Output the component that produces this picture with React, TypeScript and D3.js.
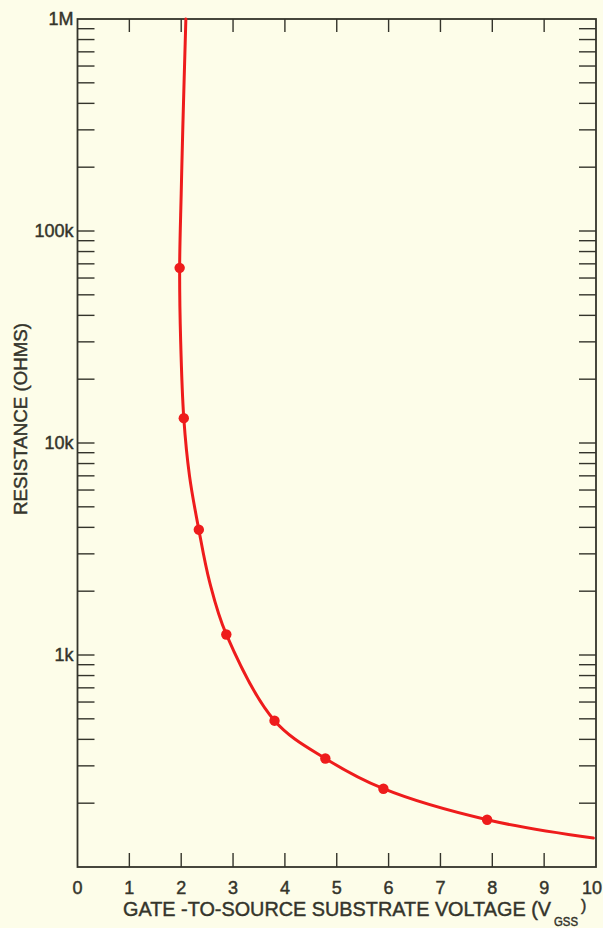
import { useEffect, useRef } from 'react';
import * as d3 from 'd3';

// x axis: gate-to-source substrate voltage
const xTicks = [0, 1, 2, 3, 4, 5, 6, 7, 8, 9, 10];
// y axis decades (ohms) and their labels
const yDecades = [100, 1000, 10000, 100000, 1000000];
const yDecadeLabels = ['', '1k', '10k', '100k', '1M'];
const minorSteps = [1, 2, 3, 4, 5, 6, 7, 8, 9];

// measured points (circles)
const markerVolts = [1.97, 2.05, 2.34, 2.87, 3.8, 4.78, 5.9, 7.9];
const markerOhms = [67000, 13100, 3900, 1250, 490, 325, 234, 167];

// hand drawn curve through the points
const curveVolts = [2.09, 2.03, 2.0, 1.97, 1.99, 2.05, 2.16, 2.34, 2.55, 2.87, 3.8, 4.78, 5.9, 7.9, 9.95];
const curveOhms = [1000000, 300000, 150000, 67000, 30000, 13100, 7000, 3900, 2200, 1250, 490, 325, 234, 167, 137];

const W = 603;
const H = 928;
const BG = '#fdfde9';
const INK = '#34342b';
const RED = '#ee1c1c';
const FONT = '"Liberation Sans", Arial, sans-serif';

export default function App() {
  const svgRef = useRef<SVGSVGElement>(null);

  useEffect(() => {
    if (!svgRef.current) return;
    const svg = d3.select(svgRef.current);
    svg.selectAll('*').remove();

    const left = 77.5;
    const right = 596;
    const top = 19;
    const bottom = 867;

    const x = d3.scaleLinear().domain([0, 10]).range([left, right]);
    const y = d3.scaleLog().domain([100, 1000000]).range([bottom, top]);

    svg.append('rect').attr('width', W).attr('height', H).attr('fill', BG);

    // === ticks ===
    const g = svg.append('g').attr('stroke', INK).attr('stroke-width', 1.4);

    xTicks.slice(1, -1).forEach((v) => {
      g.append('line')
        .attr('x1', x(v)).attr('x2', x(v))
        .attr('y1', bottom).attr('y2', bottom - 14);
      g.append('line')
        .attr('x1', x(v)).attr('x2', x(v))
        .attr('y1', top).attr('y2', top + 13);
    });

    yDecades.slice(0, -1).forEach((d) => {
      minorSteps.forEach((m) => {
        const v = d * m;
        if (v <= 100) return;
        g.append('line')
          .attr('x1', left).attr('x2', left + 17)
          .attr('y1', y(v)).attr('y2', y(v));
        g.append('line')
          .attr('x1', right).attr('x2', right - 17)
          .attr('y1', y(v)).attr('y2', y(v));
      });
    });

    // frame
    svg.append('rect')
      .attr('x', left).attr('y', top)
      .attr('width', right - left).attr('height', bottom - top)
      .attr('fill', 'none')
      .attr('stroke', INK)
      .attr('stroke-width', 1.8);

    const txt = svg.append('g')
      .attr('font-family', FONT)
      .attr('fill', INK)
      .attr('stroke', INK)
      .attr('stroke-width', 0.45);

    // === tick labels ===
    txt.append('g')
      .selectAll('text')
      .data(xTicks)
      .join('text')
      .attr('x', (d) => Math.min(x(d), W - 11))
      .attr('y', 894)
      .attr('text-anchor', 'middle')
      .attr('font-size', 18)
      .text((d) => String(d));

    txt.append('g')
      .selectAll('text')
      .data(yDecades.map((d, i) => ({ d, label: yDecadeLabels[i] })).filter((e) => e.label))
      .join('text')
      .attr('x', left - 4)
      .attr('y', (e) => Math.max(y(e.d) + 6, 25))
      .attr('text-anchor', 'end')
      .attr('font-size', 18)
      .text((e) => e.label);

    // === axis titles ===
    txt.append('text')
      .attr('transform', `translate(27, 419) rotate(-90)`)
      .attr('text-anchor', 'middle')
      .attr('font-size', 18)
      .attr('textLength', 192)
      .attr('lengthAdjust', 'spacingAndGlyphs')
      .text('RESISTANCE (OHMS)');

    txt.append('text')
      .attr('x', 123)
      .attr('y', 916)
      .attr('font-size', 21)
      .attr('textLength', 428)
      .attr('lengthAdjust', 'spacingAndGlyphs')
      .text('GATE -TO-SOURCE SUBSTRATE VOLTAGE (V');

    txt.append('text')
      .attr('x', 554)
      .attr('y', 926)
      .attr('font-size', 12)
      .attr('textLength', 24)
      .attr('lengthAdjust', 'spacingAndGlyphs')
      .text('GSS');

    txt.append('text')
      .attr('x', 581)
      .attr('y', 911)
      .attr('font-size', 16)
      .text(')');

    // === curve ===
    const pts: [number, number][] = curveVolts.map((v, i) => [x(v), y(curveOhms[i])]);
    const line = d3.line().curve(d3.curveCatmullRom.alpha(0.5));

    svg.append('path')
      .attr('d', line(pts))
      .attr('fill', 'none')
      .attr('stroke', RED)
      .attr('stroke-width', 3)
      .attr('stroke-linecap', 'round');

    svg.append('g')
      .selectAll('circle')
      .data(markerVolts.map((v, i) => [v, markerOhms[i]]))
      .join('circle')
      .attr('cx', (d) => x(d[0]))
      .attr('cy', (d) => y(d[1]))
      .attr('r', 5.2)
      .attr('fill', RED);
  }, []);

  return (
    <svg
      ref={svgRef}
      width={W}
      height={H}
      style={{ position: 'absolute', left: 0, top: 0, display: 'block' }}
    />
  );
}
